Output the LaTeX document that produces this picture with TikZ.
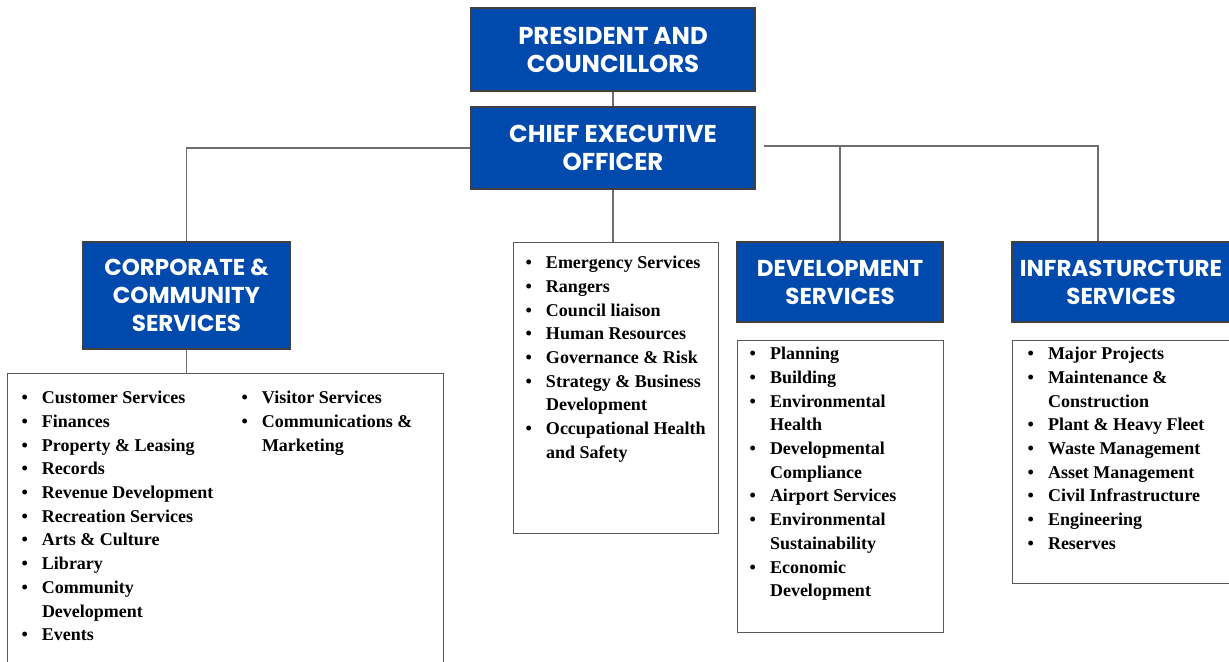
\documentclass[tikz,border=0pt]{standalone}
\usepackage{fontspec}
\setmainfont{Liberation Serif}
\newfontfamily\headfont{Poppins}
\usetikzlibrary{positioning,calc}
\definecolor{council-blue}{HTML}{004AAD}
\definecolor{link-grey}{HTML}{6E6E6E}
\tikzset{
  headbox/.style={fill=council-blue, draw=black!75, line width=0.6pt, text=white, align=center, inner sep=0pt,
    font=\headfont\bfseries\fontsize{11.5}{14}\selectfont},
  topbox/.style={headbox, font=\headfont\bfseries\fontsize{12.2}{14}\selectfont},
  dutybox/.style={draw=black!65, line width=0.7pt, fill=white, inner sep=0pt, anchor=north west,
    font=\bfseries\fontsize{9}{11.85}\selectfont},
  link/.style={draw=link-grey, line width=0.75pt}
}
\newenvironment{duties}{\begin{tabular}[t]{@{}l@{\hspace{7pt}}l@{}}}{\end{tabular}}
\newcommand{\dutylist}[5]{\parbox[t][#2][t]{#1}{\vspace*{#3}\hspace*{#4}#5}}

\begin{document}
\begin{tikzpicture}[x=0.5pt, y=-0.5pt]
    \useasboundingbox (0,0) rectangle (1229,661);
    \clip (0,0) rectangle (1229,661);

    \node[topbox, minimum width=142pt, minimum height=41.5pt] (pres) at (613,49.5) {PRESIDENT AND\\COUNCILLORS};
    \node[topbox, minimum width=142pt, minimum height=41pt] (ceo) at (613,148) {CHIEF EXECUTIVE\\OFFICER};
    \node[headbox, minimum width=103.5pt, minimum height=53.5pt] (corp) at (186.5,295.5) {CORPORATE \&\\COMMUNITY\\SERVICES};
    \node[headbox, minimum width=103pt, minimum height=40pt] (dev) at (840,282) {DEVELOPMENT\\SERVICES};
    \node[headbox, minimum width=109pt, minimum height=40pt] (infra) at (1121,282) {INFRASTURCTURE\\SERVICES};

    \node[dutybox] (corplist) at (7,373) {\dutylist{218pt}{160pt}{6.7pt}{7pt}{%
      \makebox[110pt][l]{\begin{duties}
        \textbullet & Customer Services\\
        \textbullet & Finances\\
        \textbullet & Property \& Leasing\\
        \textbullet & Records\\
        \textbullet & Revenue Development\\
        \textbullet & Recreation Services\\
        \textbullet & Arts \& Culture\\
        \textbullet & Library\\
        \textbullet & Community\\
                    & Development\\
        \textbullet & Events
      \end{duties}}%
      \begin{duties}
        \textbullet & Visitor Services\\
        \textbullet & Communications \&\\
                    & Marketing
      \end{duties}}};

    \node[dutybox] (emer) at (513,242) {\dutylist{102.5pt}{145.5pt}{4.7pt}{6pt}{%
      \begin{duties}
        \textbullet & Emergency Services\\
        \textbullet & Rangers\\
        \textbullet & Council liaison\\
        \textbullet & Human Resources\\
        \textbullet & Governance \& Risk\\
        \textbullet & Strategy \& Business\\
                    & Development\\
        \textbullet & Occupational Health\\
                    & and Safety
      \end{duties}}};

    \node[dutybox] (devlist) at (737,340) {\dutylist{103pt}{146pt}{1.2pt}{6pt}{%
      \begin{duties}
        \textbullet & Planning\\
        \textbullet & Building\\
        \textbullet & Environmental\\
                    & Health\\
        \textbullet & Developmental\\
                    & Compliance\\
        \textbullet & Airport Services\\
        \textbullet & Environmental\\
                    & Sustainability\\
        \textbullet & Economic\\
                    & Development
      \end{duties}}};

    \node[dutybox] (infralist) at (1012,340) {\dutylist{109pt}{121.5pt}{1.2pt}{7.5pt}{%
      \begin{duties}
        \textbullet & Major Projects\\
        \textbullet & Maintenance \&\\
                    & Construction\\
        \textbullet & Plant \& Heavy Fleet\\
        \textbullet & Waste Management\\
        \textbullet & Asset Management\\
        \textbullet & Civil Infrastructure\\
        \textbullet & Engineering\\
        \textbullet & Reserves
      \end{duties}}};

    \coordinate (rjoin) at (764,146);
    \coordinate (infrabend) at (1098,146);

    \draw[link] (pres) -- (ceo);
    \draw[link] (ceo.south) -- (ceo.south |- emer.north);
    \draw[link] (ceo.west) -| (corp.north);
    \draw[link] (corp.south) -- (corp.south |- corplist.north);
    \draw[link] (rjoin) -- (infrabend) -- (infrabend |- infra.north);
    \draw[link] (rjoin -| dev.north) -- (dev.north);

\end{tikzpicture}
\end{document}
